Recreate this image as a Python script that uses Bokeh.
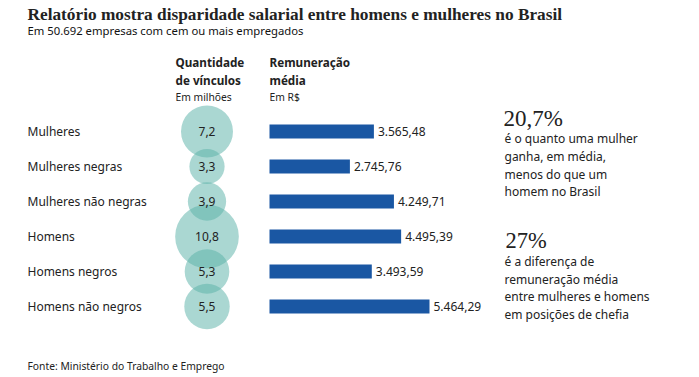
from bokeh.plotting import figure
from bokeh.models import Range1d, ColumnDataSource
from bokeh.core.properties import value
from bokeh.embed import file_html
from bokeh.resources import INLINE
import math

# ---- data ----
categorias = ["Mulheres", "Mulheres negras", "Mulheres não negras",
              "Homens", "Homens negros", "Homens não negros"]
vinculos = [7.2, 3.3, 3.9, 10.8, 5.3, 5.5]            # milhões
remuneracao = [3565.48, 2745.76, 4249.71, 4495.39, 3493.59, 5464.29]  # R$

titulo = "Relatório mostra disparidade salarial entre homens e mulheres no Brasil"
subtitulo = "Em 50.692 empresas com cem ou mais empregados"
fonte = "Fonte: Ministério do Trabalho e Emprego"
destaque1 = "20,7%"
texto1 = ["é o quanto uma mulher", "ganha, em média,", "menos do que um", "homem no Brasil"]
destaque2 = "27%"
texto2 = ["é a diferença de", "remuneração média", "entre mulheres e homens", "em posições de chefia"]

def br_num(v, dec):
    s = f"{v:,.{dec}f}"
    return s.replace(",", "X").replace(".", ",").replace("X", ".")

W, H = 699, 377
SANS = "Noto Sans"
SERIF = "Liberation Serif"
TXT = "#222222"
BODY = "12px"

# bar scale: px per R$
BAR_X0, BAR_XMAX = 269, 429
s = (BAR_XMAX - BAR_X0) / max(remuneracao)
ROW0, ROWH = 131, 35

p = figure(width=W, height=H, output_backend="svg", toolbar_location=None,
           x_range=Range1d(0, W), y_range=Range1d(H, 0),
           x_axis_location=None, y_axis_location=None, min_border=0,
           outline_line_color=None)
p.grid.visible = False
p.background_fill_color = "white"
p.border_fill_color = "white"
p.extra_x_ranges = {"rem": Range1d(-BAR_X0 / s, (W - BAR_X0) / s)}
p.extra_y_ranges = {"row": Range1d((H - ROW0) / ROWH, -ROW0 / ROWH)}

idx = list(range(len(categorias)))
R_MAX = 26 / math.sqrt(7.2)
src = ColumnDataSource(dict(
    idx=idx, cat=categorias, vinc=vinculos, rem=remuneracao,
    rad=[R_MAX * math.sqrt(v) for v in vinculos],
    vlab=[br_num(v, 1) for v in vinculos],
    rlab=[br_num(v, 2) for v in remuneracao],
))

# bubbles
p.circle(x=value(206.5), y="idx", radius="rad", radius_units="screen", source=src,
         y_range_name="row", fill_color="#5cb2a9", fill_alpha=0.52, line_color=None)
p.text(x=value(206.5), y="idx", text="vlab", source=src, y_range_name="row",
       text_align="center", text_baseline="middle", text_color=TXT,
       text_font=value(SANS), text_font_size=value(BODY))

# bars
p.hbar(y="idx", left=0, right="rem", height=0.4, source=src,
       x_range_name="rem", y_range_name="row", fill_color="#1a57a3", line_color=None)
p.text(x="rem", y="idx", text="rlab", source=src, x_range_name="rem", y_range_name="row",
       x_offset=4, text_align="left", text_baseline="middle", text_color=TXT,
       text_font=value(SANS), text_font_size=value(BODY))

# row labels
p.text(x=value(27), y="idx", text="cat", source=src, y_range_name="row",
       text_align="left", text_baseline="middle", text_color=TXT,
       text_font=value(SANS), text_font_size=value(BODY))

def txt(x, y, t, font=SANS, size=BODY, style="normal", align="left", color=TXT):
    p.text(x=[x], y=[y], text=[t], text_align=align, text_baseline="alphabetic",
           text_color=color, text_font=value(font), text_font_size=value(size),
           text_font_style=style)

# title / subtitle
txt(27, 14, titulo, SERIF, "17.3px", "bold")
txt(27, 30, subtitulo, SANS, "11.3px", color="#111111")

# column headers
txt(175, 61, "Quantidade", SANS, "11.7px", "bold")
txt(175, 79, "de vínculos", SANS, "11.7px", "bold")
txt(175, 96, "Em milhões", SANS, "10.3px")
txt(269, 61, "Remuneração", SANS, "11.7px", "bold")
txt(269, 79, "média", SANS, "11.7px", "bold")
txt(269, 96, "Em R$", SANS, "10.3px")

# right annotations
txt(503, 118, destaque1, SERIF, "23px")
for i, line in enumerate(texto1):
    txt(504, 138.3 + 17.6 * i, line, SANS, BODY)
txt(505, 240, destaque2, SERIF, "22.5px")
for i, line in enumerate(texto2):
    txt(504, 261 + 17.6 * i, line, SANS, BODY)

# source
txt(27, 365, fonte, SANS, "10.3px")

open("out.html", "w").write(file_html(p, INLINE))
